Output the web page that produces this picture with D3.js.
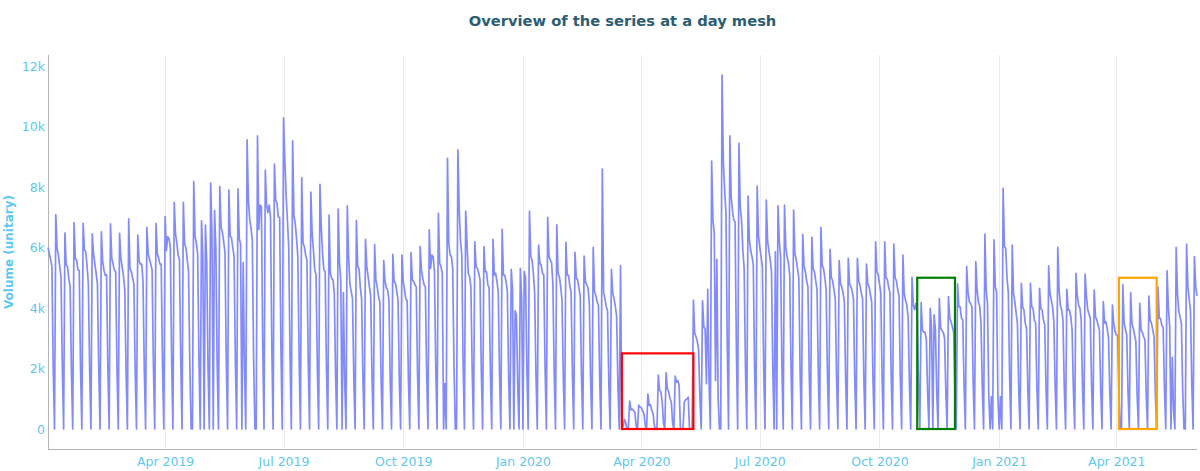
<!DOCTYPE html>
<html>
<head>
<meta charset="utf-8">
<script src="https://cdn.jsdelivr.net/npm/d3@7"></script>
<style>
  html, body { margin: 0; padding: 0; background: #fff; }
  svg { display: block; }
</style>
</head>
<body>
<svg id="chart" width="1200" height="471"></svg>
<script>
// ---------------- DATA ----------------
const startDate = "2019-01-01";
const endDate = "2021-06-02";
// Tue 1 Jan 2019 .. Sun 6 Jan 2019
const firstDays = [6000, 5800, 5600, 5365, 2060, 0];
// weeks Mon..Sun, starting Mon 7 Jan 2019
const weeks2019 = [
  [7080, 5970, 5750, 5370, 5040, 2100, 0],
  [6480, 5420, 5370, 4980, 4700, 1900, 0],
  [6820, 5640, 5580, 5260, 5240, 2000, 0],
  [6800, 5920, 5860, 5400, 4800, 2000, 0],
  [6450, 5800, 5470, 5140, 4800, 2000, 0],
  [6520, 5550, 5250, 5080, 5100, 2000, 0],
  [6780, 5650, 5450, 5250, 5200, 2000, 0],
  [6470, 5650, 5350, 5050, 4600, 1900, 0],
  [6950, 5300, 5200, 5000, 4800, 1900, 0],
  [6410, 5550, 5450, 5450, 4900, 2000, 0],
  [6670, 5800, 5600, 5450, 5250, 2100, 0],
  [6800, 5800, 5650, 5450, 5450, 2100, 0],
  [7020, 5900, 6350, 6300, 6000, 2300, 0],
  [7495, 6450, 6150, 5750, 5600, 2300, 0],
  [7495, 6100, 6000, 5600, 5200, 2100, 0],
  [0, 8180, 6380, 6140, 5800, 2300, 0],
  [6880, 5700, 0, 6740, 5500, 2000, 0],
  [8140, 6500, 0, 7220, 6000, 2200, 0],
  [8010, 6690, 6500, 6200, 5850, 2300, 0],
  [7900, 6380, 6320, 6000, 5700, 2200, 0],
  [7935, 6300, 6100, 0, 5500, 2000, 0],
  [9555, 7570, 6920, 6660, 6230, 2400, 0],
  [0, 9690, 6600, 7400, 7350, 2800, 0],
  [8560, 7400, 7150, 7400, 7000, 2700, 0],
  [8760, 7570, 7450, 7000, 7000, 2700, 0],
  [10290, 8900, 7700, 6900, 6000, 2400, 0],
  [9530, 7050, 6800, 6300, 5700, 2300, 0],
  [8310, 6150, 6030, 5750, 5580, 2200, 0],
  [7835, 6470, 5900, 5260, 5090, 2000, 0],
  [8090, 6690, 5800, 5260, 5200, 2000, 0],
  [7075, 5150, 4980, 4930, 4500, 1800, 0],
  [7270, 5500, 4900, 0, 4510, 1600, 0],
  [7380, 5700, 4800, 4550, 4300, 1700, 0],
  [6890, 5370, 5310, 4700, 4300, 1700, 0],
  [6270, 5370, 5040, 4700, 4400, 1700, 0],
  [6095, 4930, 4700, 4380, 4200, 1600, 0],
  [5565, 4880, 4670, 4600, 4270, 1600, 0],
  [5775, 4880, 4820, 4560, 4270, 1600, 0],
  [5750, 4880, 4600, 4300, 4250, 1600, 0],
  [5830, 4930, 4880, 4770, 4700, 1800, 0],
  [6030, 5260, 4980, 4770, 4700, 1800, 0],
  [6580, 5310, 5750, 5700, 5200, 2000, 0],
  [7130, 5480, 5370, 5150, 0, 1500, 0],
  [8950, 6140, 5750, 5700, 5310, 2100, 0],
  [0, 9225, 7240, 6240, 5750, 2200, 0],
  [7200, 6140, 5150, 5040, 4700, 1900, 0],
  [6190, 5370, 5310, 5150, 4930, 1900, 0],
  [6030, 5200, 5200, 4770, 4670, 1800, 0],
  [6270, 5090, 5150, 4880, 4560, 1800, 0],
  [6600, 5090, 5090, 4880, 4560, 1700, 0],
  [5280, 4600, 0, 3910, 3770, 1400, 0],
  [5310, 4300, 0, 5200, 5000, 2000, 0]
];
const weeks2020 = [
  [7200, 5700, 5580, 5150, 4500, 1800, 0],
  [6080, 5480, 5420, 5150, 5090, 2000, 0],
  [7000, 5700, 5580, 5500, 4800, 1900, 0],
  [6745, 5150, 5040, 4700, 4270, 1700, 0],
  [6170, 5090, 5090, 4750, 4500, 1800, 0],
  [5840, 4980, 4930, 4670, 4400, 1700, 0],
  [5720, 4880, 4770, 4670, 4160, 1600, 0],
  [6005, 4540, 4420, 4200, 4100, 1600, 0],
  [8595, 4500, 4310, 4050, 3900, 1500, 0],
  [5280, 4500, 4310, 4050, 3720, 1400, 0],
  [5400, 50, 100, 320, 200, 0, 0],
  [925, 630, 660, 610, 550, 100, 0],
  [790, 720, 700, 600, 500, 100, 0],
  [1150, 780, 800, 610, 500, 100, 0],
  [0, 1785, 1280, 1225, 890, 200, 0],
  [1860, 1330, 1225, 1010, 900, 200, 0],
  [1750, 1550, 1600, 1450, 0, 0, 0],
  [900, 960, 1000, 1050, 0, 0, 0],
  [4265, 3160, 3050, 2900, 2600, 1000, 0],
  [4240, 3380, 3300, 1500, 4620, 1600, 0],
  [8860, 6900, 6500, 1600, 5600, 1000, 0],
  [0, 11700, 8800, 7900, 7140, 2800, 0],
  [9690, 7680, 7240, 6900, 6850, 2700, 0],
  [9445, 7350, 6900, 5900, 5300, 2000, 0],
  [7700, 6250, 5900, 5700, 5450, 2000, 0],
  [8030, 6400, 6000, 5700, 5350, 2000, 0],
  [7570, 6200, 5900, 5600, 5200, 2000, 0],
  [5860, 0, 7380, 6200, 5700, 2100, 0],
  [7400, 6000, 5700, 5500, 5100, 2000, 0],
  [7240, 5800, 5600, 5300, 5000, 1900, 0],
  [6435, 5400, 5200, 4900, 4700, 1800, 0],
  [6340, 5300, 5200, 4900, 4600, 1800, 0],
  [6670, 5400, 5300, 5000, 4600, 1800, 0],
  [5940, 5000, 4900, 4600, 4300, 1700, 0],
  [5565, 4800, 4700, 4500, 4200, 1600, 0],
  [5640, 4800, 4700, 4550, 4300, 1600, 0],
  [5640, 4900, 4750, 4500, 4300, 1600, 0],
  [5455, 4800, 4700, 4450, 4200, 1600, 0],
  [6190, 5200, 5100, 4800, 4500, 1700, 0],
  [6190, 5000, 4950, 4700, 4500, 1700, 0],
  [6115, 5000, 4900, 4600, 4400, 1700, 0],
  [5750, 4480, 4250, 4100, 3700, 1500, 0],
  [5015, 4100, 3950, 4150, 3800, 1500, 0],
  [4180, 3270, 3200, 3200, 2950, 1200, 0],
  [3990, 3300, 0, 3770, 3250, 1200, 0],
  [4310, 3330, 3250, 3200, 3000, 1200, 0],
  [4375, 3660, 3550, 3380, 3200, 1200, 0],
  [4795, 4040, 4040, 3660, 3600, 1400, 0],
  [5365, 4540, 4210, 4150, 4040, 1500, 0],
  [5530, 4600, 4200, 4050, 3500, 1400, 0],
  [6445, 4600, 4150, 1070, 0, 1070, 0],
  [6250, 4700, 4500, 1070, 0, 1070, 0]
];
const weeks2021 = [
  [7955, 6030, 5970, 5000, 4500, 1700, 0],
  [6080, 4480, 4210, 3830, 3500, 1300, 0],
  [4815, 4040, 3930, 3500, 3330, 1300, 0],
  [4815, 4040, 3990, 3600, 3500, 1300, 0],
  [4650, 3990, 3930, 3600, 3440, 1300, 0],
  [5390, 4480, 4260, 4040, 3550, 1400, 0],
  [6005, 4600, 4100, 3930, 3600, 1400, 0],
  [4620, 3930, 3930, 3720, 3270, 1300, 0],
  [5145, 4400, 4100, 4000, 3600, 1400, 0],
  [5125, 4400, 3950, 3800, 3650, 1400, 0],
  [4595, 3710, 3600, 3440, 3270, 1300, 0],
  [4210, 3500, 3550, 3330, 3000, 1200, 0],
  [4100, 3500, 3230, 3110, 3100, 1200, 0],
  [0, 4770, 3500, 3300, 3100, 1200, 0],
  [4510, 3500, 3330, 3110, 2900, 1100, 0],
  [4155, 3270, 3200, 3050, 2950, 1100, 0],
  [4395, 3600, 3500, 3270, 3050, 1100, 0],
  [4690, 3660, 3660, 3420, 3350, 1300, 0],
  [5230, 4000, 3400, 0, 2370, 600, 0],
  [6005, 4500, 3900, 3700, 3500, 1300, 0],
  [0, 6115, 4700, 4300, 3900, 1500, 0]
];
// Mon 31 May 2021 .. Wed 2 Jun 2021
const lastDays = [5700, 4700, 4400];

const xTickDates = ["2019-04-01", "2019-07-01", "2019-10-01", "2020-01-01",
                    "2020-04-01", "2020-07-01", "2020-10-01", "2021-01-01", "2021-04-01"];
const xTickLabels = ["Apr 2019", "Jul 2019", "Oct 2019", "Jan 2020",
                     "Apr 2020", "Jul 2020", "Oct 2020", "Jan 2021", "Apr 2021"];
const yTickValues = [0, 2000, 4000, 6000, 8000, 10000, 12000];
const yTickLabels = ["0", "2k", "4k", "6k", "8k", "10k", "12k"];

// highlighted periods (lockdowns)
const boxStarts = ["2020-03-17", "2020-10-30", "2021-04-03"];
const boxEnds   = ["2020-05-11", "2020-11-28", "2021-05-02"];
const boxTops   = [2500, 5000, 5000];
const boxColors = ["#ff0000", "#008000", "#ffa500"];

const titleText = "Overview of the series at a day mesh";
const yTitleText = "Volume (unitary)";

// ---------------- BUILD ----------------
(function () {
  const parse = d3.utcParse("%Y-%m-%d");
  const t0 = parse(startDate);
  const values = [].concat(firstDays, weeks2019.flat(), weeks2020.flat(), weeks2021.flat(), lastDays);
  const series = values.map((v, i) => ({ date: d3.utcDay.offset(t0, i), value: v }));

  const svg = d3.select("#chart");
  const pL = 48, pR = 1197, pT = 55, pB = 449;

  const x = d3.scaleUtc().domain([t0, parse(endDate)]).range([pL, pR]);
  const y = d3.scaleLinear().domain([-661, 12364]).range([pB, pT]);

  const tickColor = "#5ec8f2";
  const font = "'DejaVu Sans', Verdana, sans-serif";

  svg.append("rect").attr("width", 1200).attr("height", 471).attr("fill", "#fff");

  // vertical gridlines
  svg.append("g").selectAll("line")
    .data(xTickDates.map(parse))
    .join("line")
    .attr("x1", d => Math.round(x(d)) + 0.5).attr("x2", d => Math.round(x(d)) + 0.5)
    .attr("y1", pT).attr("y2", pB)
    .attr("stroke", "#ebebeb").attr("stroke-width", 1);

  // axis lines
  svg.append("line").attr("x1", pL + 0.5).attr("x2", pL + 0.5).attr("y1", pT).attr("y2", pB)
    .attr("stroke", "#b4b4b4").attr("stroke-width", 1);
  svg.append("line").attr("x1", pL).attr("x2", pR).attr("y1", pB + 0.5).attr("y2", pB + 0.5)
    .attr("stroke", "#b4b4b4").attr("stroke-width", 1.2);

  // x axis
  const xAxis = d3.axisBottom(x)
    .tickValues(xTickDates.map(parse))
    .tickFormat((d, i) => xTickLabels[i])
    .tickSize(0).tickPadding(0);
  const gx = svg.append("g").attr("transform", `translate(0,${pB})`).call(xAxis);
  gx.select(".domain").remove();
  gx.selectAll("text").attr("fill", tickColor).attr("font-family", font)
    .attr("font-size", "12.5px").attr("dy", null).attr("y", 16.5);

  // y axis
  const yAxis = d3.axisLeft(y)
    .tickValues(yTickValues)
    .tickFormat((d, i) => yTickLabels[i])
    .tickSize(0).tickPadding(0);
  const gy = svg.append("g").attr("transform", `translate(${pL - 3},0)`).call(yAxis);
  gy.select(".domain").remove();
  gy.selectAll("text").attr("fill", tickColor).attr("font-family", font)
    .attr("font-size", "12.5px");

  // line
  const line = d3.line().x(d => x(d.date)).y(d => y(d.value));
  svg.append("path").datum(series)
    .attr("d", line)
    .attr("fill", "none")
    .attr("stroke", "#828bfb")
    .attr("stroke-width", 1.7)
    .attr("stroke-linejoin", "round");

  // boxes
  svg.append("g").selectAll("rect")
    .data(boxStarts.map((s, i) => ({ s: parse(s), e: parse(boxEnds[i]), top: boxTops[i], c: boxColors[i] })))
    .join("rect")
    .attr("x", d => x(d.s)).attr("width", d => x(d.e) - x(d.s))
    .attr("y", d => y(d.top)).attr("height", d => y(0) - y(d.top))
    .attr("fill", "none").attr("stroke", d => d.c).attr("stroke-width", 2.2);

  // title
  svg.append("text").attr("x", (pL + pR) / 2).attr("y", 26)
    .attr("text-anchor", "middle").attr("font-family", font)
    .attr("font-weight", "bold").attr("font-size", "14.7px").attr("fill", "#2b5d74")
    .text(titleText);

  // y title
  svg.append("text")
    .attr("transform", `translate(12.5,${(pT + pB) / 2}) rotate(-90)`)
    .attr("text-anchor", "middle").attr("font-family", font)
    .attr("font-weight", "bold").attr("font-size", "12px").attr("fill", tickColor)
    .text(yTitleText);
})();
</script>
</body>
</html>
